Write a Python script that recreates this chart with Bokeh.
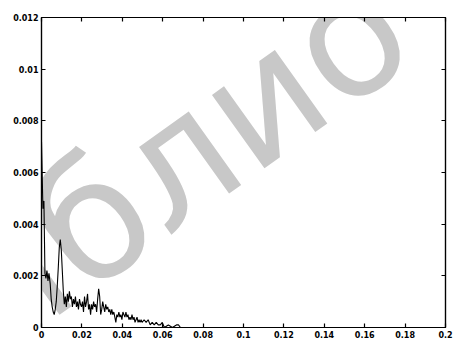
from bokeh.plotting import figure
from bokeh.models import Range1d, LinearAxis, FixedTicker, Label
from bokeh.embed import file_html
from bokeh.resources import INLINE

freq = [0.0000, 0.0007, 0.0012, 0.0017, 0.0022, 0.0027, 0.0032, 0.0037, 0.0043, 0.0048,
        0.0053, 0.0058, 0.0063, 0.0068, 0.0073, 0.0078, 0.0083, 0.0088, 0.0093, 0.0098,
        0.0103, 0.0108, 0.0113, 0.0118, 0.0123, 0.0128, 0.0133, 0.0138, 0.0143, 0.0148,
        0.0153, 0.0158, 0.0163, 0.0168, 0.0173, 0.0178, 0.0183, 0.0188, 0.0193, 0.0198,
        0.0203, 0.0208, 0.0213, 0.0218, 0.0223, 0.0228, 0.0233, 0.0238, 0.0243, 0.0248,
        0.0253, 0.0258, 0.0263, 0.0268, 0.0273, 0.0278, 0.0283, 0.0288, 0.0293, 0.0298,
        0.0303, 0.0308, 0.0313, 0.0318, 0.0323, 0.0328, 0.0333, 0.0338, 0.0343, 0.0348,
        0.0353, 0.0358, 0.0363, 0.0368, 0.0373, 0.0378, 0.0383, 0.0388, 0.0393, 0.0398,
        0.0403, 0.0408, 0.0413, 0.0418, 0.0423, 0.0428, 0.0433, 0.0438, 0.0443, 0.0448,
        0.0453, 0.0458, 0.0463, 0.0468, 0.0473, 0.0478, 0.0483, 0.0488, 0.0493, 0.0498,
        0.0508, 0.0518, 0.0528, 0.0538, 0.0548, 0.0558, 0.0568, 0.0578, 0.0588, 0.0598,
        0.0608, 0.0628, 0.0648, 0.0668, 0.0678, 0.0688, 0.2000]

amplitude = [0.0072, 0.0046, 0.0049, 0.0021, 0.0019, 0.0022, 0.0018, 0.0021, 0.0017, 0.0011,
             0.0008, 0.0006, 0.0005, 0.0007, 0.0010, 0.0016, 0.0023, 0.0031, 0.0034, 0.0030,
             0.0022, 0.0014, 0.0009, 0.0012, 0.0008, 0.0013, 0.0010, 0.0014, 0.0011, 0.0012,
             0.0008, 0.0011, 0.0009, 0.0012, 0.0008, 0.0010, 0.0007, 0.0011, 0.0009, 0.0008,
             0.0010, 0.0006, 0.0012, 0.0008, 0.0010, 0.0013, 0.0007, 0.0009, 0.0005, 0.0009,
             0.0007, 0.0010, 0.0008, 0.0009, 0.0006, 0.0011, 0.0015, 0.0012, 0.0005, 0.0007,
             0.0010, 0.0008, 0.0006, 0.0009, 0.0007, 0.0008, 0.0006, 0.0007, 0.0005, 0.0007,
             0.0005, 0.0006, 0.0004, 0.0002, 0.0005, 0.0004, 0.0006, 0.0004, 0.0005, 0.0003,
             0.0006, 0.0005, 0.0004, 0.0006, 0.0004, 0.0005, 0.0003, 0.0004, 0.0003, 0.0005,
             0.0003, 0.0004, 0.0002, 0.0003, 0.0004, 0.0002, 0.0003, 0.0002, 0.0003, 0.0002,
             0.0003, 0.0002, 0.0003, 0.0001, 0.0002, 0.0001, 0.0002, 0.0001, 0.0001, 0.0002,
             0.0000, 0.0001, 0.0000, 0.0001, 0.0001, 0.0000, 0.0000]

x_ticks = [0, 0.02, 0.04, 0.06, 0.08, 0.1, 0.12, 0.14, 0.16, 0.18, 0.2]
x_tick_labels = ["0", "0.02", "0.04", "0.06", "0.08", "0.1", "0.12", "0.14", "0.16", "0.18", "0.2"]
y_ticks = [0, 0.002, 0.004, 0.006, 0.008, 0.01, 0.012]
y_tick_labels = ["0", "0.002", "0.004", "0.006", "0.008", "0.01", "0.012"]

watermark_text = "библио"

W, H = 454, 340
LEFT, RIGHT, TOP, BOTTOM = 41, 9, 17, 13

p = figure(width=W, height=H, output_backend="svg", toolbar_location=None,
           x_range=Range1d(0, 0.2), y_range=Range1d(0, 0.012),
           min_border_left=LEFT, min_border_right=RIGHT,
           min_border_top=TOP, min_border_bottom=BOTTOM)

p.xgrid.visible = False
p.ygrid.visible = False
p.outline_line_color = "black"
p.outline_line_width = 1.2
p.background_fill_color = "white"
p.border_fill_color = "white"

# diagonal watermark; anchor given in screen pixels, converted to data coords
fw, fh = W - LEFT - RIGHT, H - TOP - BOTTOM
wm_sx, wm_sy = -120, 372
p.add_layout(Label(x=(wm_sx - LEFT) / fw * 0.2, y=(H - BOTTOM - wm_sy) / fh * 0.012,
                   text=watermark_text, angle=0.62,
                   text_align="left", text_baseline="alphabetic",
                   text_color="#c8c8c8", text_font="DejaVu Sans",
                   text_font_size="165px", level="underlay"))

p.line(freq, amplitude, line_color="black", line_width=1.1)

def style_axis(ax, ticks, labels, show_labels):
    ax.ticker = FixedTicker(ticks=ticks)
    if show_labels:
        ax.major_label_overrides = {t: l for t, l in zip(ticks, labels)}
    else:
        ax.major_label_overrides = {t: "" for t in ticks}
    ax.major_tick_in = 4
    ax.major_tick_out = 0
    ax.minor_tick_in = 0
    ax.minor_tick_out = 0
    ax.axis_line_color = "black"
    ax.axis_line_width = 1.2
    ax.major_tick_line_color = "black"
    ax.major_tick_line_width = 1.2
    ax.major_label_text_font = "DejaVu Sans"
    ax.major_label_text_font_style = "bold"
    ax.major_label_text_color = "black"
    ax.major_label_text_font_size = "8px"
    ax.major_label_standoff = 3 if show_labels else 0

style_axis(p.xaxis[0], x_ticks, x_tick_labels, True)
style_axis(p.yaxis[0], y_ticks, y_tick_labels, True)

top_ax = LinearAxis()
style_axis(top_ax, x_ticks, x_tick_labels, False)
p.add_layout(top_ax, "above")
right_ax = LinearAxis()
style_axis(right_ax, y_ticks, y_tick_labels, False)
p.add_layout(right_ax, "right")

open("out.html", "w").write(file_html(p, INLINE))
